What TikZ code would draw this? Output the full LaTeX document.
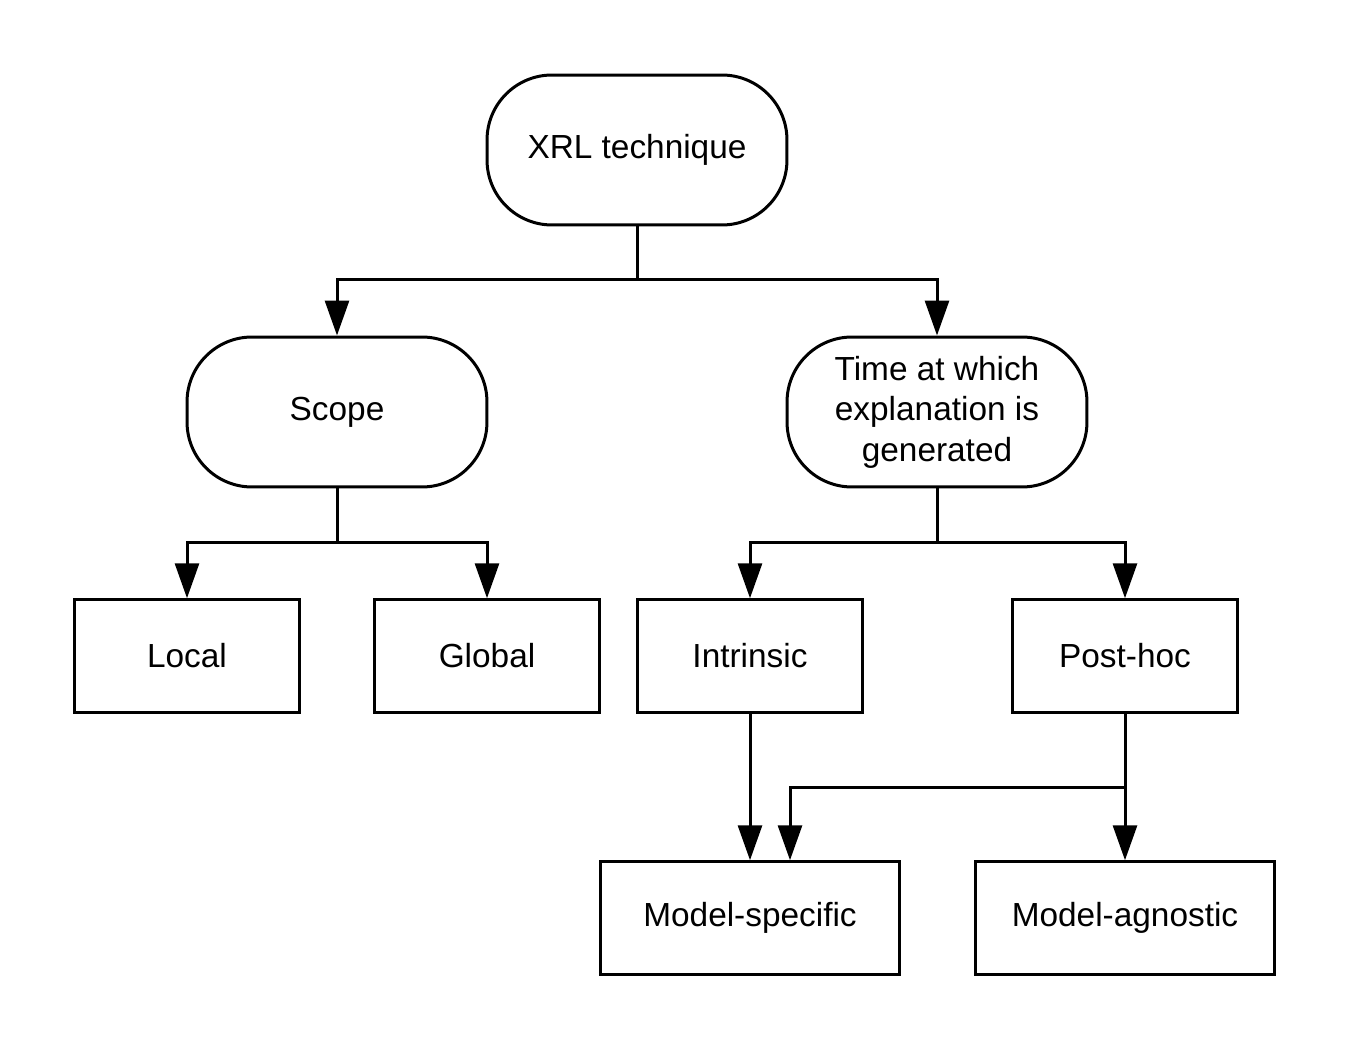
\documentclass[tikz,border=0pt]{standalone}
\usepackage{fontspec}
\setmainfont{Liberation Sans}
\usetikzlibrary{arrows.meta}
\tikzset{every picture/.style={x=0.02cm,y=-0.02cm}}
\tikzset{pill/.style={draw,line width=0.06cm,rounded corners=1.3cm,minimum width=6cm,minimum height=3cm,align=center,font=\fontsize{19}{23}\selectfont}}
\tikzset{leaf/.style={draw,line width=0.06cm,minimum height=2.25cm,align=center,font=\fontsize{19}{23}\selectfont}}
\tikzset{edge/.style={line width=0.06cm,-{Triangle[length=0.7cm,width=0.48cm]}}}
\tikzset{link/.style={line width=0.06cm}}

\begin{document}
\begin{tikzpicture}
\useasboundingbox (0,0) rectangle (1350,1050);
\node [pill] (xrl) at (637,150) {XRL technique};
\node [pill] (scope) at (337,412) {Scope};
\node [pill] (time) at (937,412) {Time at which\\explanation is\\generated};
\node [leaf,minimum width=4.5cm] (local) at (187,656) {Local};
\node [leaf,minimum width=4.5cm] (global) at (487,656) {Global};
\node [leaf,minimum width=4.5cm] (intr) at (750,656) {Intrinsic};
\node [leaf,minimum width=4.5cm] (post) at (1125,656) {Post-hoc};
\node [leaf,minimum width=6cm] (spec) at (750,918) {Model-specific};
\node [leaf,minimum width=6cm] (agn) at (1125,918) {Model-agnostic};
\coordinate (j1) at (637,280);
\coordinate (j2) at (337,543);
\coordinate (j3) at (937,543);
\coordinate (j4) at (1125,788);
\coordinate (j5) at (790,788);

\draw [link] (xrl) -- (j1);
\draw [edge] (j1) -| (scope.north);
\draw [edge] (j1) -| (time.north);

\draw [link] (scope) -- (j2);
\draw [edge] (j2) -| (local.north);
\draw [edge] (j2) -| (global.north);

\draw [link] (time) -- (j3);
\draw [edge] (j3) -| (intr.north);
\draw [edge] (j3) -| (post.north);

\draw [edge] (intr) -- (spec);
\draw [edge] (post) -- (agn);
\draw [edge] (j4) -- (j5) -- (j5 |- spec.north);
\end{tikzpicture}
\end{document}
